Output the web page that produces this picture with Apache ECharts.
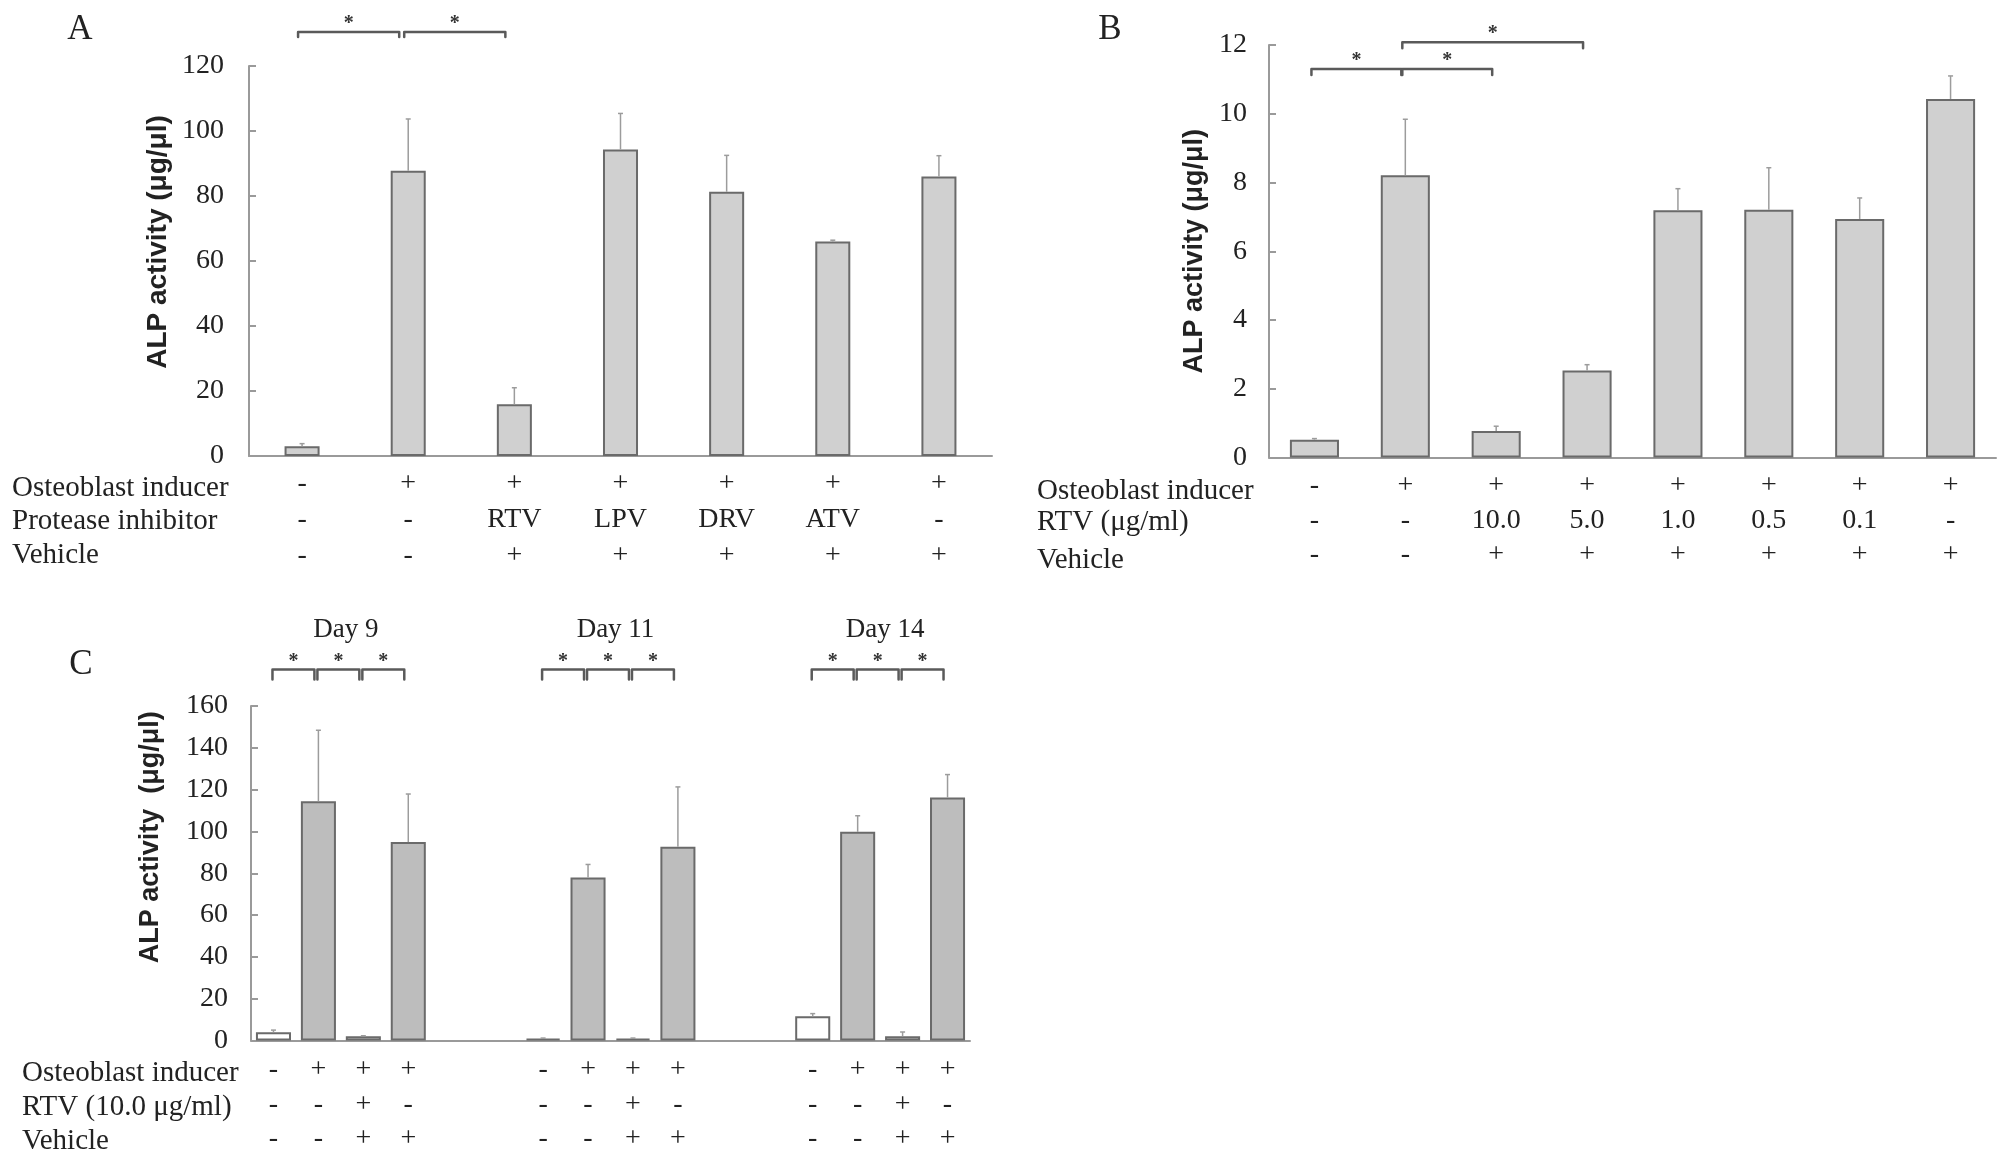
<!DOCTYPE html>
<html><head><meta charset="utf-8">
<script src="https://cdn.jsdelivr.net/npm/echarts@6/dist/echarts.min.js"></script>
<style>html,body{margin:0;padding:0;background:#fff}#c{width:2010px;height:1166px}</style>
</head><body><div id="c"></div>
<script>
// ---------- Panel A ----------
const rowLabelsA = ['Osteoblast inducer', 'Protease inhibitor', 'Vehicle'];
const inducerA = ['-', '+', '+', '+', '+', '+', '+'];
const inhibitorA = ['-', '-', 'RTV', 'LPV', 'DRV', 'ATV', '-'];
const vehicleA = ['-', '-', '+', '+', '+', '+', '+'];
const meanA = [3.0, 87.8, 15.9, 94.3, 81.3, 66.0, 86.0];
const sdA = [0.8, 15.9, 5.1, 11.1, 11.2, 0.4, 6.4];
const sigA = [[0, 1, 130.5], [1, 2, 130.5]];

// ---------- Panel B ----------
const rowLabelsB = ['Osteoblast inducer', 'RTV (μg/ml)', 'Vehicle'];
const inducerB = ['-', '+', '+', '+', '+', '+', '+', '+'];
const rtvDoseB = ['-', '-', '10.0', '5.0', '1.0', '0.5', '0.1', '-'];
const vehicleB = ['-', '-', '+', '+', '+', '+', '+', '+'];
const meanB = [0.52, 8.21, 0.77, 2.53, 7.19, 7.21, 6.94, 10.43];
const sdB = [0.03, 1.63, 0.14, 0.17, 0.63, 1.22, 0.61, 0.67];
const sigB = [[0, 1, 11.30], [1, 2, 11.30], [1, 3, 12.08]];

// ---------- Panel C ----------
const rowLabelsC = ['Osteoblast inducer', 'RTV (10.0 μg/ml)', 'Vehicle'];
const daysC = ['Day 9', 'Day 11', 'Day 14'];
const inducerC = ['-', '+', '+', '+'];
const rtvC = ['-', '-', '+', '-'];
const vehicleC = ['-', '-', '+', '+'];
const meanDay9 = [3.97, 114.4, 2.07, 94.9];
const sdDay9 = [1.0, 34.0, 0.2, 23.0];
const meanDay11 = [0.86, 78.0, 0.86, 92.7];
const sdDay11 = [0.3, 6.2, 0.3, 28.6];
const meanDay14 = [11.56, 99.8, 2.07, 116.2];
const sdDay14 = [1.3, 7.7, 2.0, 11.0];
const sigPairsC = [[0, 1], [1, 2], [2, 3]];
const sigLevelC = 177.5;
const dayLabelLevelC = 196.3;

// ---------- build ----------
const SERIF = '"Liberation Serif", "Times New Roman", serif';
const SANS = '"Liberation Sans", Arial, sans-serif';
const TXT = '#222';
const AXIS = '#9a9a9a';

const slotsPerDay = 6; // 4 conditions + 2 spacer slots
const meanC = [meanDay9, meanDay11, meanDay14];
const sdC = [sdDay9, sdDay11, sdDay14];
const catC = [], barC = [], errC = [], sigC = [], dayC = [];
daysC.forEach((d, di) => {
  for (let j = 0; j < slotsPerDay; j++) {
    const slot = di * slotsPerDay + j;
    catC.push(d + '#' + j);
    if (j < 4) {
      barC.push(meanC[di][j]);
      errC.push([slot, meanC[di][j], sdC[di][j]]);
    } else barC.push(null);
  }
  sigPairsC.forEach(p => sigC.push([di * slotsPerDay + p[0], di * slotsPerDay + p[1], sigLevelC]));
  dayC.push([di * slotsPerDay + 1, di * slotsPerDay + 2, dayLabelLevelC]);
});
catC.length = catC.length - 2; barC.length = barC.length - 2; // trailing spacers not drawn

function errItem(params, api) {
  const x = api.value(0), m = api.value(1), s = api.value(2);
  const p0 = api.coord([x, m]), p1 = api.coord([x, m + s]);
  return { type: 'group', children: [
    { type: 'line', shape: { x1: p0[0], y1: p0[1], x2: p1[0], y2: p1[1] }, style: { stroke: '#9c9c9c', lineWidth: 1.5 } },
    { type: 'line', shape: { x1: p1[0] - 2.5, y1: p1[1], x2: p1[0] + 2.5, y2: p1[1] }, style: { stroke: '#9c9c9c', lineWidth: 1.5 } }
  ]};
}
function bracketItem(drop, d1, d2) {
  return function (params, api) {
    const a = api.value(0), b = api.value(1), lv = api.value(2);
    const p1 = api.coord([a, lv]), p2 = api.coord([b, lv]);
    const x1 = p1[0] + d1, x2 = p2[0] + d2, y = p1[1];
    return { type: 'group', children: [
      { type: 'polyline', shape: { points: [[x1, y + drop], [x1, y], [x2, y], [x2, y + drop]] },
        style: { stroke: '#5a5a5a', lineWidth: 2.5, fill: null, lineJoin: 'round', lineCap: 'round' } },
      { type: 'text', style: { text: '*', x: (x1 + x2) / 2, y: y - 8, align: 'center', verticalAlign: 'middle',
        font: 'bold 20px ' + SERIF, fill: '#333' } }
    ]};
  };
}
function dayItem(params, api) {
  const p1 = api.coord([api.value(0), api.value(2)]), p2 = api.coord([api.value(1), api.value(2)]);
  return { type: 'text', style: { text: daysC[params.dataIndex], x: (p1[0] + p2[0]) / 2 + 5, y: p1[1],
    align: 'center', verticalAlign: 'middle', font: '27px ' + SERIF, fill: TXT } };
}

function yAx(idx, max, interval, nameGap, pad, name, fs, margin) {
  return {
    gridIndex: idx, type: 'value', min: 0, max: max, interval: interval,
    name: name, nameLocation: 'middle', nameGap: nameGap,
    nameTextStyle: { fontFamily: SANS, fontWeight: 'bold', fontSize: fs, color: TXT, padding: pad },
    axisLine: { show: true, lineStyle: { color: AXIS, width: 2 } },
    axisTick: { show: true, inside: true, length: 7, lineStyle: { color: AXIS, width: 2 } },
    axisLabel: { fontFamily: SERIF, fontSize: 28, color: TXT, margin: margin },
    splitLine: { show: false }
  };
}
function xAx(idx, data, fmt, lh, margin) {
  return {
    gridIndex: idx, type: 'category', data: data,
    axisLine: { show: true, lineStyle: { color: AXIS, width: 2 } },
    axisTick: { show: false },
    axisLabel: { interval: 0, hideOverlap: false, fontFamily: SERIF, fontSize: 28, color: TXT,
      lineHeight: lh, margin: margin, formatter: fmt }
  };
}

const catA = inducerA.map((_, i) => 'A' + i);
const catB = inducerB.map((_, i) => 'B' + i);

const barStyle = { color: '#d0d0d0', borderColor: '#6a6a6a', borderWidth: 2 };

const graphics = [];
function rowTexts(labels, x, ys) {
  labels.forEach((t, i) => graphics.push({ type: 'text', x: x, y: ys[i],
    style: { text: t, font: '29px ' + SERIF, fill: TXT, verticalAlign: 'middle' } }));
}
rowTexts(rowLabelsA, 12, [488, 521, 555]);
rowTexts(rowLabelsB, 1037, [491, 522, 560]);
rowTexts(rowLabelsC, 22, [1073, 1107, 1141]);
[['A', 80, 30], ['B', 1110, 30], ['C', 81, 665]].forEach(l => graphics.push({ type: 'text', x: l[1], y: l[2],
  style: { text: l[0], font: '35px ' + SERIF, fill: TXT, align: 'center', verticalAlign: 'middle' } }));

const option = {
  animation: false,
  backgroundColor: '#fff',
  grid: [
    { left: 249, top: 66, width: 743, height: 390 },
    { left: 1269, top: 45, width: 727, height: 412.5 },
    { left: 251, top: 706, width: 719, height: 334.5 }
  ],
  xAxis: [
    xAx(0, catA, (v, i) => [inducerA[i], inhibitorA[i], vehicleA[i]].join('\n'), 36, 10),
    xAx(1, catB, (v, i) => [inducerB[i], rtvDoseB[i], vehicleB[i]].join('\n'), 34.5, 11),
    xAx(2, catC, (v, i) => { const j = i % slotsPerDay; return j < 4 ? [inducerC[j], rtvC[j], vehicleC[j]].join('\n') : ''; }, 34.5, 12)
  ],
  yAxis: [
    yAx(0, 120, 20, 77, [0, 0, 0, 38], 'ALP activity (μg/μl)', 28, 25),
    yAx(1, 12, 2, 61, [0, 0, 0, 0], 'ALP activity (μg/μl)', 27, 22),
    yAx(2, 160, 20, 87, [0, 0, 0, 72], 'ALP activity  (μg/μl)', 27, 23)
  ],
  graphic: graphics,
  series: [
    { type: 'bar', xAxisIndex: 0, yAxisIndex: 0, data: meanA, barWidth: '33%', itemStyle: barStyle },
    { type: 'custom', xAxisIndex: 0, yAxisIndex: 0, data: meanA.map((m, i) => [i, m, sdA[i]]), renderItem: errItem, clip: false, z: 3 },
    { type: 'custom', xAxisIndex: 0, yAxisIndex: 0, data: sigA, renderItem: bracketItem(5, -4, -9), clip: false },

    { type: 'bar', xAxisIndex: 1, yAxisIndex: 1, data: meanB, barWidth: '54%', itemStyle: barStyle },
    { type: 'custom', xAxisIndex: 1, yAxisIndex: 1, data: meanB.map((m, i) => [i, m, sdB[i]]), renderItem: errItem, clip: false, z: 3 },
    { type: 'custom', xAxisIndex: 1, yAxisIndex: 1, data: sigB, renderItem: bracketItem(6, -3, -4), clip: false },

    { type: 'bar', xAxisIndex: 2, yAxisIndex: 2, data: barC, barWidth: '78%',
      itemStyle: { borderColor: '#6a6a6a', borderWidth: 2,
        color: p => { const j = p.dataIndex % slotsPerDay; return (inducerC[j] === '-' || rtvC[j] === '+') ? '#ffffff' : '#bdbdbd'; } } },
    { type: 'custom', xAxisIndex: 2, yAxisIndex: 2, data: errC, renderItem: errItem, clip: false, z: 3 },
    { type: 'custom', xAxisIndex: 2, yAxisIndex: 2, data: sigC, renderItem: bracketItem(10, -1, -4), clip: false },
    { type: 'custom', xAxisIndex: 2, yAxisIndex: 2, data: dayC, renderItem: dayItem, clip: false }
  ]
};
const chart = echarts.init(document.getElementById('c'));
chart.setOption(option);
</script>
</body></html>
